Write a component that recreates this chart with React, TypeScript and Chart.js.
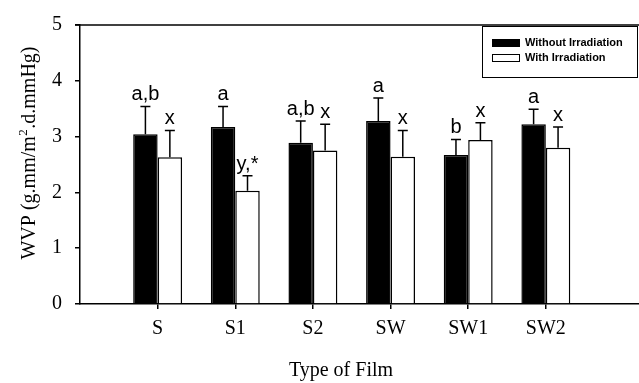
import React, { useEffect, useRef } from 'react';
import { Chart, registerables } from 'chart.js';

Chart.register(...registerables);

const categories = ['S', 'S1', 'S2', 'SW', 'SW1', 'SW2'];
const withoutIrradiation = [3.04, 3.17, 2.89, 3.28, 2.67, 3.22];
const withoutIrradiationErr = [0.5, 0.37, 0.39, 0.41, 0.28, 0.27];
const withIrradiation = [2.63, 2.03, 2.75, 2.64, 2.94, 2.8];
const withIrradiationErr = [0.48, 0.27, 0.47, 0.47, 0.31, 0.37];
const withoutLetters = ['a,b', 'a', 'a,b', 'a', 'b', 'a'];
const withLetters = ['x', 'y,*', 'x', 'x', 'x', 'x'];
const seriesNames = ['Without Irradiation', 'With Irradiation'];
const yTickValues = [0, 1, 2, 3, 4, 5];
const yTitleMain = 'WVP (g.mm/m';
const yTitleSup = '2';
const yTitleEnd = '.d.mmHg)';
const xTitle = 'Type of Film';

const SERIF = '"Liberation Serif", "Times New Roman", serif';
const SANS = '"Liberation Sans", Arial, sans-serif';

const customPlugin = {
  id: 'customDraw',
  afterDatasetsDraw(chart: any) {
    const ctx = chart.ctx as CanvasRenderingContext2D;
    const yScale = chart.scales.y;
    const errs = [withoutIrradiationErr, withIrradiationErr];
    const letters = [withoutLetters, withLetters];
    ctx.save();
    ctx.strokeStyle = '#000';
    ctx.fillStyle = '#000';
    ctx.lineWidth = 1.5;
    chart.data.datasets.forEach((ds: any, di: number) => {
      const meta = chart.getDatasetMeta(di);
      meta.data.forEach((bar: any, j: number) => {
        const v = ds.data[j].y;
        const top = yScale.getPixelForValue(v + errs[di][j]);
        const x = bar.x;
        ctx.beginPath();
        ctx.moveTo(x, bar.y);
        ctx.lineTo(x, top);
        ctx.moveTo(x - 5, top);
        ctx.lineTo(x + 5, top);
        ctx.stroke();
        ctx.font = `20px ${SANS}`;
        ctx.textAlign = 'center';
        ctx.textBaseline = 'alphabetic';
        ctx.fillText(letters[di][j], x, top - 6);
      });
    });
    ctx.restore();
  },
  afterDraw(chart: any) {
    const ctx = chart.ctx as CanvasRenderingContext2D;
    const area = chart.chartArea;
    ctx.save();
    ctx.strokeStyle = '#000';
    ctx.fillStyle = '#000';
    ctx.lineWidth = 1.5;
    ctx.beginPath();
    ctx.moveTo(area.left - 5, area.top);
    ctx.lineTo(area.right, area.top);
    ctx.stroke();

    // legend
    const lx = 482.5, ly = 26.5, lw = 155, lh = 51;
    ctx.lineWidth = 1;
    ctx.strokeRect(lx, ly, lw, lh);
    const rows = [43, 58];
    chart.data.datasets.forEach((ds: any, i: number) => {
      const cy = rows[i];
      ctx.fillStyle = ds.backgroundColor;
      ctx.fillRect(492, cy - 4, 28, 8);
      ctx.strokeStyle = '#000';
      ctx.lineWidth = 1;
      ctx.strokeRect(492.5, cy - 3.5, 27, 7);
      ctx.fillStyle = '#000';
      ctx.font = `bold 11px ${SANS}`;
      ctx.textAlign = 'left';
      ctx.textBaseline = 'middle';
      ctx.fillText(ds.label, 525, cy);
    });

    // y title
    ctx.save();
    ctx.translate(30, 153);
    ctx.rotate(-Math.PI / 2);
    ctx.textBaseline = 'alphabetic';
    ctx.textAlign = 'left';
    ctx.font = `20px ${SERIF}`;
    const w1 = ctx.measureText(yTitleMain).width;
    const w3 = ctx.measureText(yTitleEnd).width;
    ctx.font = `13px ${SERIF}`;
    const w2 = ctx.measureText(yTitleSup).width + 1;
    const total = w1 + w2 + w3;
    let sx = -total / 2;
    ctx.font = `20px ${SERIF}`;
    ctx.fillText(yTitleMain, sx, 5);
    sx += w1;
    ctx.font = `13px ${SERIF}`;
    ctx.fillText(yTitleSup, sx + 0.5, -3);
    sx += w2;
    ctx.font = `20px ${SERIF}`;
    ctx.fillText(yTitleEnd, sx, 5);
    ctx.restore();

    // x title
    ctx.font = `20px ${SERIF}`;
    ctx.textAlign = 'center';
    ctx.textBaseline = 'alphabetic';
    ctx.fillText(xTitle, 341, 376);
    ctx.restore();
  },
};

export default function App() {
  const canvasRef = useRef<HTMLCanvasElement | null>(null);

  useEffect(() => {
    const canvas = canvasRef.current;
    if (!canvas) return;
    const chart = new Chart(canvas, {
      type: 'bar',
      data: {
        datasets: [
          {
            label: seriesNames[0],
            data: withoutIrradiation.map((v, i) => ({ x: i + 1, y: v })),
            backgroundColor: '#000000',
            borderColor: '#000000',
            borderWidth: 1.5,
          },
          {
            label: seriesNames[1],
            data: withIrradiation.map((v, i) => ({ x: i + 1, y: v })),
            backgroundColor: '#ffffff',
            borderColor: '#000000',
            borderWidth: 1.5,
          },
        ],
      },
      options: {
        responsive: false,
        animation: false,
        devicePixelRatio: 1,
        categoryPercentage: 0.63,
        barPercentage: 1,
        layout: { padding: { top: 20, right: 0, left: 0, bottom: 0 } },
        plugins: {
          legend: { display: false },
          tooltip: { enabled: false },
        },
        scales: {
          x: {
            type: 'linear',
            offset: false,
            min: 0,
            max: 7.2,
            afterBuildTicks: (scale: any) => {
              scale.ticks = categories.map((_, i) => ({ value: i + 1 }));
            },
            afterFit: (scale: any) => {
              scale.height = 79;
            },
            ticks: {
              autoSkip: false,
              maxRotation: 0,
              padding: 8,
              color: '#000',
              font: { family: SERIF, size: 20 },
              callback: (value: any) => categories[Math.round(value) - 1] ?? '',
            },
            grid: {
              offset: false,
              drawOnChartArea: false,
              drawTicks: true,
              tickLength: 5,
              color: '#000',
              lineWidth: 1.5,
            },
            border: { color: '#000', width: 1.5 },
          },
          y: {
            min: 0,
            max: 5,
            afterBuildTicks: (scale: any) => {
              scale.ticks = yTickValues.map((v) => ({ value: v }));
            },
            afterFit: (scale: any) => {
              scale.width = 80;
            },
            ticks: {
              padding: 13,
              color: '#000',
              font: { family: SERIF, size: 20 },
              callback: (value: any) => String(value),
            },
            grid: {
              drawOnChartArea: false,
              drawTicks: true,
              tickLength: 5,
              color: '#000',
              lineWidth: 1.5,
            },
            border: { color: '#000', width: 1.5 },
          },
        },
      },
      plugins: [customPlugin],
    } as any);
    return () => chart.destroy();
  }, []);

  return (
    <div style={{ position: 'absolute', left: 0, top: 0, width: 639, height: 383, background: '#fff' }}>
      <canvas ref={canvasRef} width={639} height={383} style={{ display: 'block', width: 639, height: 383 }} />
    </div>
  );
}
